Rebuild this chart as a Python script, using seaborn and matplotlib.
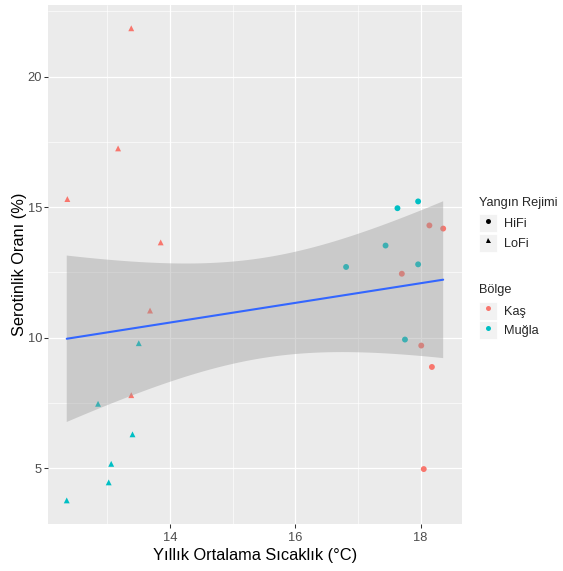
import numpy as np
import pandas as pd
import matplotlib
matplotlib.use("Agg")
import matplotlib.pyplot as plt
import seaborn as sns
from matplotlib.lines import Line2D
from matplotlib.patches import Rectangle
from matplotlib.legend_handler import HandlerTuple
from matplotlib.ticker import MultipleLocator

# Annual mean temperature (°C), serotiny rate (%), region and fire regime per site
sicaklik = [17.96, 17.63, 17.44, 16.81, 17.96, 17.75,
            18.14, 18.36, 17.70, 18.01, 18.18, 18.05,
            13.38, 13.17, 12.36, 13.85, 13.68, 13.38,
            13.50, 12.85, 13.40, 13.06, 13.02, 12.35]
serotinlik = [15.22, 14.96, 13.53, 12.71, 12.81, 9.93,
              14.30, 14.18, 12.45, 9.70, 8.88, 4.97,
              21.85, 17.25, 15.31, 13.65, 11.04, 7.80,
              9.79, 7.47, 6.30, 5.17, 4.46, 3.77]
bolge = (["Muğla"] * 6 + ["Kaş"] * 6 + ["Kaş"] * 6 + ["Muğla"] * 6)
rejim = ["HiFi"] * 12 + ["LoFi"] * 12

bolge_levels = ["Kaş", "Muğla"]
rejim_levels = ["HiFi", "LoFi"]
renkler = ["#F8766D", "#00BFC4"]
isaretler = ["o", "^"]

df = pd.DataFrame({"sicaklik": sicaklik, "serotinlik": serotinlik,
                   "bolge": bolge, "rejim": rejim})

sns.set_theme(style="darkgrid")
plt.rcParams["font.family"] = ["Liberation Sans", "DejaVu Sans"]

fig = plt.figure(figsize=(5.63, 5.71), dpi=100)
ax = fig.add_axes([0.0851, 0.0823, 0.7355, 0.9095])
ax.set_facecolor("#EBEBEB")

palette = dict(zip(bolge_levels, renkler))
markers = dict(zip(rejim_levels, isaretler))

sns.scatterplot(data=df, x="sicaklik", y="serotinlik", hue="bolge",
                style="rejim", palette=palette, markers=markers,
                hue_order=bolge_levels, style_order=rejim_levels,
                s=18, linewidth=0, legend=False, ax=ax, zorder=2)

# Linear fit with an analytic 95% confidence band (lm-style)
x = np.asarray(sicaklik)
y = np.asarray(serotinlik)
n = len(x)
b, a = np.polyfit(x, y, 1)
resid = y - (a + b * x)
s = np.sqrt(np.sum(resid ** 2) / (n - 2))
sxx = np.sum((x - x.mean()) ** 2)
xg = np.linspace(x.min(), x.max(), 80)
fit = a + b * xg
se = s * np.sqrt(1 / n + (xg - x.mean()) ** 2 / sxx)
t975 = 2.0739  # Student t quantile, 22 degrees of freedom
ax.fill_between(xg, fit - t975 * se, fit + t975 * se,
                facecolor=(0.6, 0.6, 0.6, 0.4), edgecolor="none", zorder=3)
sns.regplot(x=x, y=y, scatter=False, ci=None, color="#3366FF",
            line_kws={"linewidth": 1.5, "zorder": 4}, ax=ax, truncate=True)

# ggplot-style 5% expansion of the data range
xr = x.max() - x.min()
yr = y.max() - y.min()
ax.set_xlim(x.min() - 0.05 * xr, x.max() + 0.05 * xr)
ax.set_ylim(y.min() - 0.05 * yr, y.max() + 0.05 * yr)

ax.xaxis.set_major_locator(MultipleLocator(2))
ax.xaxis.set_minor_locator(MultipleLocator(1))
ax.yaxis.set_major_locator(MultipleLocator(5))
ax.yaxis.set_minor_locator(MultipleLocator(2.5))
ax.grid(which="major", color="white", linewidth=0.9)
ax.grid(which="minor", color="white", linewidth=0.45)
for sp in ax.spines.values():
    sp.set_visible(False)
ax.tick_params(which="major", length=2.9, width=0.75, color="#333333",
               labelsize=9.3, labelcolor="#4D4D4D", bottom=True, left=True)
ax.tick_params(axis="x", which="major", pad=2.8)
ax.tick_params(axis="y", which="major", pad=1.3)
ax.tick_params(which="minor", length=0)

ax.set_xlabel("Yıllık Ortalama Sıcaklık (°C)", fontsize=11.8, color="black", labelpad=2.6)
ax.set_ylabel("Serotinlik Oranı (%)", fontsize=11.8, color="black", labelpad=0.5)

# Legends with grey key boxes
def key(marker=None, color="black", ms=3.6):
    box = Rectangle((0, 0), 1, 1, facecolor="#F2F2F2", edgecolor="white", linewidth=0.6)
    mk = Line2D([], [], marker=marker, color=color, linestyle="", markersize=ms,
                markeredgewidth=0)
    return (box, mk)

leg_kw = dict(frameon=False, fontsize=9.2, title_fontsize=9.2,
              handler_map={tuple: HandlerTuple(ndivide=1, pad=0)},
              handlelength=1.41, handleheight=1.79, labelspacing=0.12,
              handletextpad=0.55, borderpad=0.4, borderaxespad=0,
              alignment="left", loc="upper left")

leg1 = fig.legend([key(m) for m in isaretler], rejim_levels, title="Yangın Rejimi",
                  bbox_to_anchor=(474 / 563, 1 - 191.5 / 571), **leg_kw)
leg2 = fig.legend([key("o", c) for c in renkler], bolge_levels, title="Bölge",
                  bbox_to_anchor=(474 / 563, 1 - 279 / 571), **leg_kw)
# a little more room between each legend title and its keys
for leg in (leg1, leg2):
    leg._legend_box.sep = 4

fig.savefig("out.png", dpi=100)
